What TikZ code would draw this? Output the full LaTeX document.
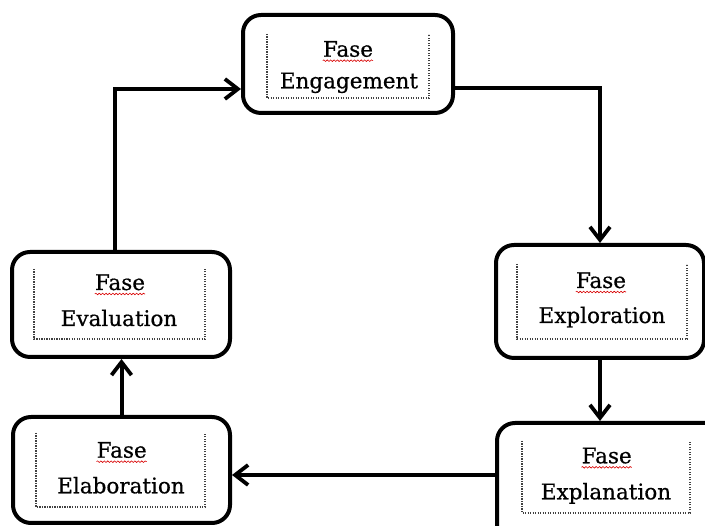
\documentclass[tikz,border=0pt]{standalone}
\usepackage{fontspec}
\setmainfont{DejaVu Serif}[FakeBold=0.6]
\usetikzlibrary{arrows.meta,decorations.pathmorphing}

\tikzset{
  phase/.style={draw=black, line width=4pt, rounded corners=18pt,
                fill=white, inner sep=0pt},
  word/.style={inner sep=0pt, font=\fontsize{21.5}{26}\selectfont},
  frame/.style={line width=1.1pt, black!75, dash pattern=on 1.1pt off 1.4pt},
  flow/.style={line width=4pt,
               -{Straight Barb[length=13pt,width=20pt,line width=3.8pt]}},
  squig/.style={red!85!black, line width=0.6pt,
                decorate, decoration={snake, amplitude=0.8pt, segment length=3.4pt}}
}

\begin{document}
\begin{tikzpicture}[x=1pt,y=1pt]
\useasboundingbox (0,0) rectangle (705,526);
\fill[white] (0,0) rectangle (705,526);
\begin{scope}
\clip (0,0) rectangle (705,526);

% phase boxes
\node[phase, minimum width=210pt, minimum height=98pt]  (eng)  at (348,462)   {};
\node[phase, minimum width=208pt, minimum height=113pt] (expl) at (600,224.5) {};
\node[phase, minimum width=236pt, minimum height=120pt] (expn) at (615,43)    {};
\node[phase, minimum width=217pt, minimum height=106pt] (elab) at (121.5,56)  {};
\node[phase, minimum width=218pt, minimum height=105pt] (eval) at (121,221.5) {};

% dotted inner frames, open at the top
\draw[frame] (267,492) -- (267,428) -- (429,428) -- (429,492);
\draw[frame] (517,262) -- (517,187) -- (687,187) -- (687,262);
\draw[frame] (522,85)  -- (522,13)  -- (690,13)  -- (690,85);
\draw[frame] (36,93)   -- (36,19)   -- (205,19)  -- (205,93);
\draw[frame] (34,257)  -- (34,187)  -- (205,187) -- (205,257);

% labels
\node[word, anchor=base] (engA)  at (348,469.3) {Fase};
\node[word, anchor=base] (engB)  at (349,437.7) {Engagement};
\node[word, anchor=base] (explA) at (601,238)   {Fase};
\node[word, anchor=base] (explB) at (602,203)   {Exploration};
\node[word, anchor=base] (expnA) at (606.7,62.7) {Fase};
\node[word, anchor=base] (expnB) at (606,26.7)  {Explanation};
\node[word, anchor=base] (elabA) at (121.7,68.3) {Fase};
\node[word, anchor=base] (elabB) at (121,32.7)  {Elaboration};
\node[word, anchor=base] (evalA) at (120,236)   {Fase};
\node[word, anchor=base] (evalB) at (119,200)   {Evaluation};

% spelling squiggles under "Fase"
\foreach \n in {engA,explA,expnA,elabA,evalA}
  \draw[squig] ([yshift=-4pt]\n.base west) -- ([yshift=-4pt]\n.base east);

% cycle connectors
\draw[flow] ([yshift=-24pt]eng.east) -| (expl.north);
\draw[flow] (expl.south) -- (expl.south |- expn.north);
\draw[flow] ([yshift=8pt]expn.west) -- ([yshift=-5pt]elab.east);
\draw[flow] (elab.north) -- (elab.north |- eval.south);
\draw[flow] ([xshift=-6pt]eval.north) |- ([yshift=-25pt]eng.west);
\end{scope}
\end{tikzpicture}
\end{document}
